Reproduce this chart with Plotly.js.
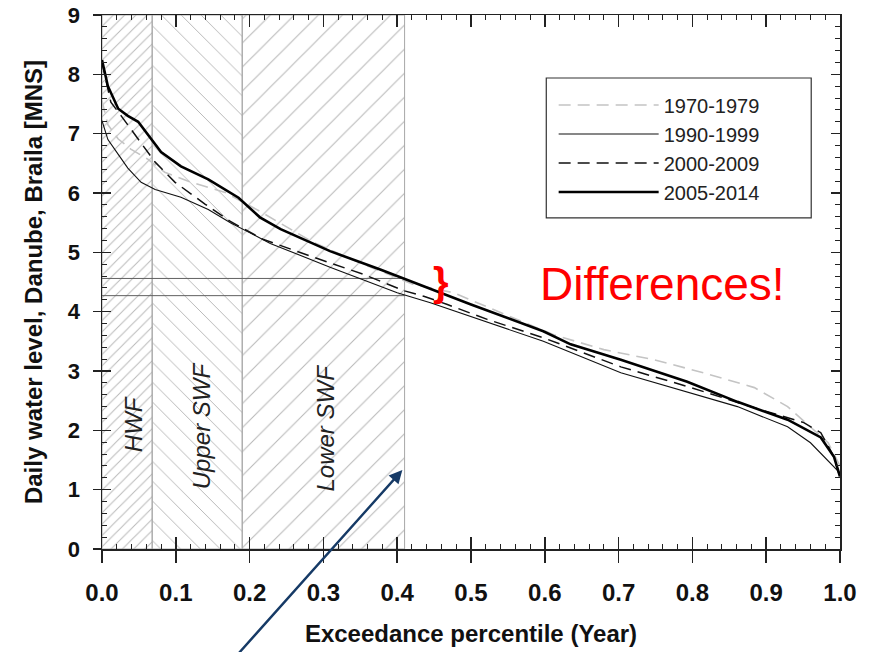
<!DOCTYPE html>
<html>
<head>
<meta charset="utf-8">
<script src="https://cdn.plot.ly/plotly-3.0.1.min.js"></script>
<style>html,body{margin:0;padding:0;background:#fff;}#chart{width:869px;height:652px;}</style>
</head>
<body>
<div id="chart"></div>
<script>
// ---- data ----
const x7079 = [0, 0.008, 0.022, 0.039, 0.062, 0.085, 0.121, 0.167, 0.214, 0.286, 0.354, 0.422, 0.476, 0.612, 0.68, 0.748, 0.815, 0.884, 0.929, 0.951, 0.984, 1.0];
const y7079 = [7.55, 7.15, 6.91, 6.74, 6.57, 6.35, 6.18, 6.01, 5.69, 5.17, 4.80, 4.46, 4.32, 3.61, 3.36, 3.19, 2.97, 2.72, 2.40, 2.15, 1.79, 1.40];

const x9099 = [0, 0.008, 0.022, 0.035, 0.053, 0.072, 0.107, 0.144, 0.174, 0.228, 0.309, 0.40, 0.445, 0.5, 0.598, 0.703, 0.793, 0.861, 0.929, 0.96, 1.0];
const y9099 = [7.22, 6.90, 6.65, 6.42, 6.18, 6.06, 5.93, 5.72, 5.50, 5.15, 4.75, 4.32, 4.15, 3.92, 3.50, 2.97, 2.65, 2.40, 2.06, 1.79, 1.28];

const x0009 = [0, 0.012, 0.026, 0.039, 0.058, 0.072, 0.099, 0.14, 0.174, 0.218, 0.286, 0.354, 0.41, 0.436, 0.468, 0.522, 0.598, 0.703, 0.793, 0.884, 0.951, 0.974, 0.992, 1.0];
const y0009 = [8.20, 7.53, 7.30, 7.08, 6.74, 6.52, 6.18, 5.81, 5.52, 5.22, 4.92, 4.63, 4.35, 4.26, 4.12, 3.87, 3.56, 3.07, 2.74, 2.38, 2.13, 1.96, 1.55, 1.20];

const x0514 = [0, 0.008, 0.022, 0.035, 0.049, 0.065, 0.08, 0.107, 0.144, 0.185, 0.214, 0.242, 0.309, 0.377, 0.41, 0.445, 0.5, 0.598, 0.635, 0.703, 0.793, 0.861, 0.929, 0.974, 0.992, 1.0];
const y0514 = [8.24, 7.80, 7.42, 7.30, 7.20, 6.94, 6.69, 6.45, 6.23, 5.92, 5.59, 5.39, 5.02, 4.71, 4.55, 4.38, 4.12, 3.67, 3.45, 3.19, 2.82, 2.48, 2.18, 1.88, 1.55, 1.22];

const seriesNames = ["1970-1979", "1990-1999", "2000-2009", "2005-2014"];

// flow zones (start, end) and labels
const zoneStart = [0, 0.068, 0.19];
const zoneEnd = [0.068, 0.19, 0.41];
const zoneLabels = ["HWF", "Upper SWF", "Lower SWF"];
const zoneLabelX = [0.043, 0.135, 0.303];
const zoneLabelY = [2.1, 2.08, 2.04];

// threshold levels
const thresholdLevels = [4.56, 4.27];
const thresholdEnd = 0.41;

const xTicks = [0, 0.1, 0.2, 0.3, 0.4, 0.5, 0.6, 0.7, 0.8, 0.9, 1.0];
const yTicks = [0, 1, 2, 3, 4, 5, 6, 7, 8, 9];

// ---- build ----
const FONT = "Liberation Sans, Arial, sans-serif";
const traces = [];

traces.push({
  type: "bar",
  x: zoneStart.map((s, i) => (s + zoneEnd[i]) / 2),
  y: zoneStart.map(() => 9),
  width: zoneStart.map((s, i) => zoneEnd[i] - s),
  marker: {
    color: "rgba(255,255,255,0)",
    line: {color: "#a8a8a8", width: 1},
    pattern: {shape: ["/", "\\", "/"], size: [8, 14, 17], solidity: [0.12, 0.07, 0.06], fgcolor: "#b8b8b8", bgcolor: "rgba(255,255,255,0)", fillmode: "replace"}
  },
  showlegend: false, hoverinfo: "skip"
});

thresholdLevels.forEach(v => {
  traces.push({type: "scatter", mode: "lines", x: [0, thresholdEnd], y: [v, v],
    line: {color: "#606060", width: 1}, showlegend: false, hoverinfo: "skip"});
});

const styles = [
  {color: "#c4c4c4", width: 1.6, dash: "12px,7px"},
  {color: "#111", width: 1.1, dash: "solid"},
  {color: "#111", width: 1.5, dash: "12px,7px"},
  {color: "#000", width: 2.6, dash: "solid"}
];
const xs = [x7079, x9099, x0009, x0514];
const ys = [y7079, y9099, y0009, y0514];
xs.forEach((xv, i) => {
  traces.push({type: "scatter", mode: "lines", x: xv, y: ys[i], name: seriesNames[i], line: styles[i]});
});

// invisible trace for overlay axes
traces.push({type: "scatter", mode: "markers", x: [0], y: [0], xaxis: "x2", yaxis: "y2",
  marker: {opacity: 0}, showlegend: false, hoverinfo: "skip"});

const annotations = zoneLabels.map((t, i) => ({
  x: zoneLabelX[i], y: zoneLabelY[i], xref: "x", yref: "y",
  text: t, showarrow: false, textangle: -90,
  font: {family: FONT, size: 24, color: "#222", style: "italic"}
}));
annotations.push({x: 0.459, y: 4.5, xref: "x", yref: "y", text: "}", showarrow: false,
  font: {family: FONT, size: 40, color: "#ff0000", weight: "bold"}});
annotations.push({x: 0.76, y: 4.46, xref: "x", yref: "y", text: "Differences!", showarrow: false,
  font: {family: FONT, size: 46, color: "#ff0000"}});
annotations.push({x: 0.407, y: 1.33, xref: "x", yref: "y", ax: 0.175, ay: -1.9, axref: "x", ayref: "y",
  text: "", showarrow: true, arrowhead: 2, arrowsize: 1.1, arrowwidth: 2.4, arrowcolor: "#163a66"});

const layout = {
  width: 869, height: 652,
  margin: {l: 102, r: 29, t: 15, b: 103},
  paper_bgcolor: "#fff", plot_bgcolor: "#fff",
  showlegend: true,
  bargap: 0,
  legend: {x: 0.612, y: 0.868, xanchor: "left", yanchor: "top", bgcolor: "rgba(0,0,0,0)", borderwidth: 0,
    font: {family: FONT, size: 20, color: "#222"}, itemwidth: 100, tracegroupgap: 0},
  xaxis: {range: [0, 1], tickvals: xTicks, ticktext: xTicks.map(v => v.toFixed(1)), ticks: "outside", ticklen: 12,
    tickwidth: 1.5, tickcolor: "#222", showline: true, linecolor: "#222", linewidth: 1.5, mirror: true,
    showgrid: false, zeroline: false, ticklabelstandoff: 10, tickfont: {family: FONT, size: 24, color: "#111", weight: "bold"},
    title: {text: "Exceedance percentile (Year)", font: {family: FONT, size: 24, color: "#111", weight: "bold"}, standoff: 20}},
  yaxis: {range: [0, 9], tickvals: yTicks, ticks: "outside", ticklen: 8, tickwidth: 1.5, tickcolor: "#222",
    showline: true, linecolor: "#222", linewidth: 1.5, mirror: true, showgrid: false, zeroline: false,
    ticklabelstandoff: 8, tickfont: {family: FONT, size: 22, color: "#111", weight: "bold"},
    title: {text: "Daily water level, Danube, Braila [MNS]", font: {family: FONT, size: 24, color: "#111", weight: "bold"}, standoff: 18}},
  xaxis2: {overlaying: "x", range: [0, 1], tickvals: xTicks, ticks: "inside", ticklen: 12, tickwidth: 1.5, tickcolor: "#222",
    showticklabels: false, mirror: "allticks", showline: false, showgrid: false, zeroline: false,
    minor: {dtick: 0.02, tick0: 0, ticks: "inside", ticklen: 5, tickcolor: "#222", tickwidth: 1}},
  yaxis2: {overlaying: "y", range: [0, 9], tickvals: yTicks, ticks: "inside", ticklen: 9, tickwidth: 1.5, tickcolor: "#222",
    showticklabels: false, mirror: "allticks", showline: false, showgrid: false, zeroline: false,
    minor: {dtick: 0.2, tick0: 0, ticks: "inside", ticklen: 5, tickcolor: "#222", tickwidth: 1}},
  shapes: [
    {type: "rect", xref: "paper", yref: "paper", x0: 0.602, x1: 0.961, y0: 0.62, y1: 0.882,
      line: {color: "#333", width: 1.2}, fillcolor: "rgba(0,0,0,0)", layer: "above"}
  ],
  annotations: annotations
};

Plotly.newPlot("chart", traces, layout, {displayModeBar: false, staticPlot: true});
</script>
</body>
</html>
